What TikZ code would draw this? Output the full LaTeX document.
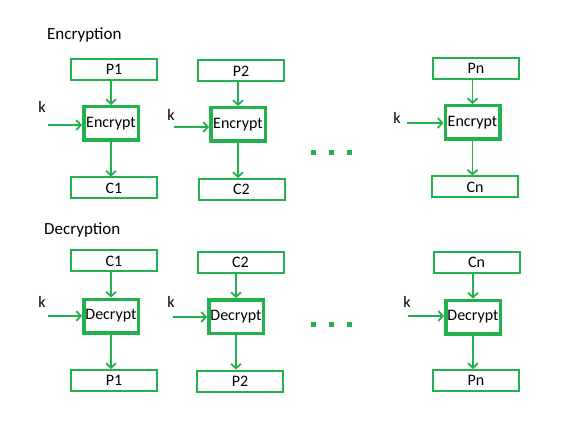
\documentclass[tikz,border=0pt]{standalone}
\usepackage{fontspec}
\setmainfont{Carlito}
\usetikzlibrary{arrows.meta}
\definecolor{pgreen}{RGB}{34,177,76}
\begin{document}
\begin{tikzpicture}[x=1pt,y=-1pt,
  font=\fontsize{16}{18}\selectfont,
  blockbox/.style={draw=pgreen,line width=2pt,inner sep=0pt,
    minimum width=86pt,minimum height=21pt},
  cipherbox/.style={draw=pgreen,line width=3.5pt,inner sep=0pt,
    minimum width=54.5pt,minimum height=33.5pt},
  arr/.style={draw=pgreen,line width=1.8pt,
    -{Straight Barb[length=4.5pt,width=10pt,line width=1.8pt]}},
  dotsq/.style={fill=pgreen,minimum size=5pt,inner sep=0pt},
  title/.style={anchor=west,inner sep=0pt,font=\fontsize{17}{19}\selectfont}]
\useasboundingbox (0,0) rectangle (563,433);

% ---------- encryption ----------
\node[title] (enctitle) at (47,35) {Encryption};

\node[blockbox]  (p1) at (114,69.5)  {P1};
\node[cipherbox] (e1) at (111,123.5) {Encrypt};
\node[blockbox]  (c1) at (114,188)   {C1};

\node[blockbox]  (p2) at (241,71)    {P2};
\node[cipherbox] (e2) at (238,124.5) {Encrypt};
\node[blockbox]  (c2) at (241.5,189.5) {C2};

\node[blockbox]  (pn) at (476,68.5)  {Pn};
\node[cipherbox] (en) at (472.5,122.5) {Encrypt};
\node[blockbox]  (cn) at (475,187)   {Cn};

\foreach \e/\p/\c in {e1/p1/c1,e2/p2/c2,en/pn/cn}{
  \draw[arr] (\e.north |- \p.south) -- (\e.north);
  \draw[arr] (\e.south) -- (\e.south |- \c.north);
}

\node (ke1) at (42,107) {k};
\coordinate (kse1) at (48,125);
\draw[arr] (kse1) -- (kse1 -| e1.west);
\node (ke2) at (171,115) {k};
\coordinate (kse2) at (174,127);
\draw[arr] (kse2) -- (kse2 -| e2.west);
\node (ken) at (397,118) {k};
\coordinate (ksen) at (407,123);
\draw[arr] (ksen) -- (ksen -| en.west);

\node[dotsq] (ed1) at (313,153) {};
\node[dotsq] (ed2) at (331,153) {};
\node[dotsq] (ed3) at (349,153) {};

% ---------- decryption ----------
\node[title] (dectitle) at (44,230) {Decryption};

\node[blockbox]  (dc1) at (114,261)   {C1};
\node[cipherbox] (d1)  at (111,316)   {Decrypt};
\node[blockbox]  (dp1) at (114,380.5) {P1};

\node[blockbox]  (dc2) at (240.5,262.5) {C2};
\node[cipherbox] (d2)  at (236,316.5) {Decrypt};
\node[blockbox]  (dp2) at (240,381)   {P2};

\node[blockbox]  (dcn) at (476.5,262.5) {Cn};
\node[cipherbox] (dn)  at (473,317)   {Decrypt};
\node[blockbox]  (dpn) at (476,380.5) {Pn};

\foreach \d/\c/\p in {d1/dc1/dp1,d2/dc2/dp2,dn/dcn/dpn}{
  \draw[arr] (\d.north |- \c.south) -- (\d.north);
  \draw[arr] (\d.south) -- (\d.south |- \p.north);
}

\node (kd1) at (42,302) {k};
\coordinate (ksd1) at (48,316);
\draw[arr] (ksd1) -- (ksd1 -| d1.west);
\node (kd2) at (171,302) {k};
\coordinate (ksd2) at (173,317);
\draw[arr] (ksd2) -- (ksd2 -| d2.west);
\node (kdn) at (407,302) {k};
\coordinate (ksdn) at (408,316);
\draw[arr] (ksdn) -- (ksdn -| dn.west);

\node[dotsq] (dd1) at (313,324) {};
\node[dotsq] (dd2) at (331,324) {};
\node[dotsq] (dd3) at (349,324) {};
\end{tikzpicture}
\end{document}
